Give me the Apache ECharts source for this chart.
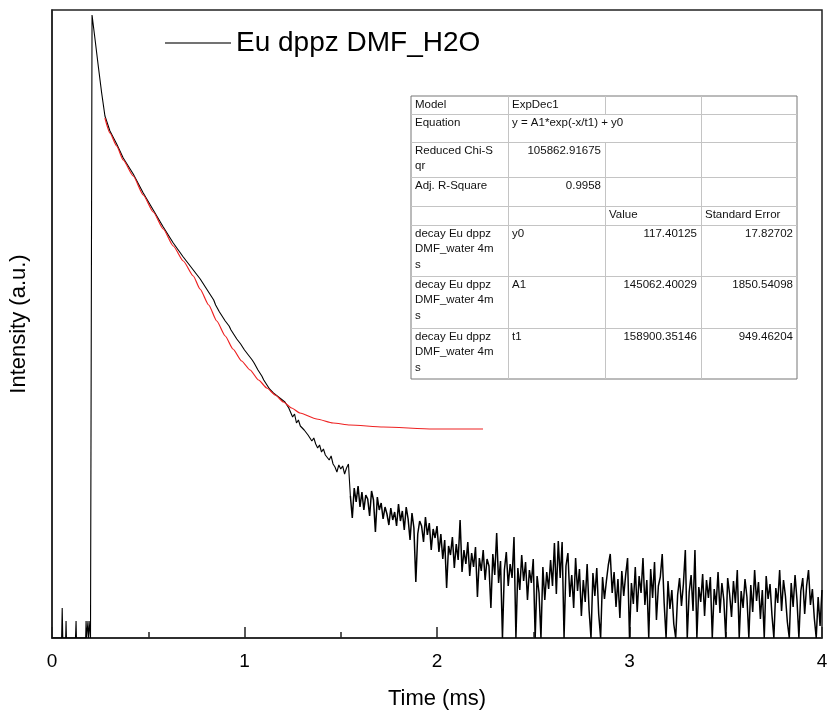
<!DOCTYPE html>
<html>
<head>
<meta charset="utf-8">
<script src="https://cdn.jsdelivr.net/npm/echarts@6/dist/echarts.min.js"></script>
<style>
html,body{margin:0;padding:0;background:#fff;}
#chart{width:832px;height:720px;}
</style>
</head>
<body>
<div id="chart"></div>
<script>
// ---------- DATA ----------
const seriesName = 'Eu dppz DMF_H2O';
const xTickLabels = ['0', '1', '2', '3', '4'];

// irregularly sampled head of the decay trace (time in ms, intensity a.u.)
const headTime = [0, 0.050, 0.053, 0.056, 0.071, 0.073, 0.075, 0.122, 0.125, 0.127, 0.175, 0.177, 0.180, 0.185, 0.187, 0.190, 0.195, 0.197, 0.200, 0.206, 0.208, 0.215, 0.224, 0.241, 0.258, 0.275, 0.301, 0.336, 0.370, 0.422, 0.474, 0.526, 0.578, 0.630, 0.682, 0.734, 0.770];
const headIntensity = [0, 0, 30, 0, 0, 17, 0, 0, 17, 0, 0, 17, 0, 0, 17, 0, 0, 17, 0, 0, 623, 621, 598, 571, 545, 522, 507, 494, 480, 464, 445, 428, 411, 395, 381, 368, 359];

// regularly sampled tail of the trace: 0.80 ms .. 4.00 ms every 0.01 ms
const tailStart = 0.80;
const tailStep = 0.01;
const tailIntensity = [
  350, 347, 345, 341, 338, 333, 331, 326, 324, 320,
  317, 315, 312, 308, 305, 303, 299, 298, 294, 292,
  288, 287, 283, 281, 278, 275, 273, 268, 266, 262,
  258, 256, 252, 249, 247, 245, 243, 242, 240, 239,
  237, 236, 233, 230, 228, 221, 224, 215, 218, 212,
  214, 208, 210, 203, 205, 197, 200, 194, 190, 193,
  186, 189, 183, 185, 178, 182, 174, 171, 166, 173,
  169, 172, 164, 170, 174, 142, 120, 150, 136, 152,
  131, 146, 128, 143, 139, 122, 147, 138, 106, 141,
  128, 135, 119, 131, 124, 113, 130, 118, 126, 112,
  134, 117, 127, 108, 131, 119, 98, 125, 110, 56,
  104, 117, 112, 96, 121, 103, 115, 88, 109, 100,
  112, 86, 104, 79, 98, 50, 92, 83, 101, 70,
  94, 78, 118, 66, 88, 74, 96, 62, 85, 71,
  91, 41, 80, 67, 88, 58, 79, 72, 30, 84,
  63, 105, 55, 77, 0, 68, 86, 52, 74, 60,
  101, 0, 70, 48, 83, 57, 76, 38, 68, 55,
  79, 0, 62, 45, 0, 71, 38, 66, 49, 78,
  52, 95, 44, 97, 60, 96, 0, 72, 85, 41,
  63, 30, 80, 47, 69, 22, 58, 36, 74, 28,
  0, 65, 42, 70, 24, 0, 61, 39, 57, 73,
  84, 45, 66, 31, 59, 20, 67, 42, 63, 80,
  0, 55, 34, 71, 26, 62, 45, 80, 33, 58,
  0, 69, 40, 76, 18, 52, 61, 84, 35, 0,
  57, 29, 48, 14, 0, 43, 60, 32, 54, 88,
  0, 46, 63, 27, 88, 0, 51, 36, 64, 22,
  58, 40, 61, 0, 49, 33, 66, 25, 55, 38,
  0, 60, 44, 21, 57, 35, 68, 0, 47, 30,
  59, 41, 0, 53, 26, 68, 37, 56, 19, 48,
  0, 62, 39, 54, 23, 0, 50, 35, 68, 27,
  58, 42, 16, 0, 55, 31, 63, 38, 0, 47,
  60, 24, 52, 68, 33, 49, 20, 0, 41, 12,
  48
];
const noisyFrom = 1.55; // ms, where the trace becomes noisy (drawn slightly heavier)

// ExpDec1 fit curve
const fitTime = [0.275, 0.301, 0.336, 0.370, 0.422, 0.474, 0.526, 0.578, 0.630, 0.682, 0.734, 0.769, 0.814, 0.856, 0.900, 0.940, 0.985, 1.029, 1.073, 1.116, 1.160, 1.202, 1.245, 1.288, 1.375, 1.460, 1.548, 1.721, 1.979, 2.239];
const fitIntensity = [520, 505, 492, 478, 462, 443, 426, 409, 392, 377, 362, 349, 333, 317, 302, 289, 277, 268, 258, 250, 243, 236, 230, 225, 219, 215, 213, 211, 209, 209];

// fit report table
const tableText = [
  ['Model', 'ExpDec1', '', ''],
  ['Equation', 'y = A1*exp(-x/t1) + y0', '', ''],
  ['Reduced Chi-S\nqr', '105862.91675', '', ''],
  ['Adj. R-Square', '0.9958', '', ''],
  ['', '', 'Value', 'Standard Error'],
  ['decay Eu dppz\nDMF_water 4m\ns', 'y0', '117.40125', '17.82702'],
  ['decay Eu dppz\nDMF_water 4m\ns', 'A1', '145062.40029', '1850.54098'],
  ['decay Eu dppz\nDMF_water 4m\ns', 't1', '158900.35146', '949.46204']
];

// ---------- BUILD ----------
const traceData = headTime.map((t, i) => [t, headIntensity[i]]);
tailIntensity.forEach((v, i) => traceData.push([+(tailStart + i * tailStep).toFixed(2), v]));
const smoothPart = traceData.filter(p => p[0] <= noisyFrom);
const noisyPart = traceData.filter(p => p[0] >= noisyFrom - 0.0001);
const fitData = fitTime.map((t, i) => [t, fitIntensity[i]]);

// table layout
const colX = [411, 508, 605, 701, 797];
const rowY = [96, 114, 142, 177, 206, 225, 276, 328, 379];
const numericRight = (r, c) => c > 0 && /^[0-9.]+$/.test(tableText[r][c]);
const tableEls = [];
tableEls.push({type: 'rect', shape: {x: colX[0], y: rowY[0], width: colX[4] - colX[0], height: rowY[rowY.length - 1] - rowY[0]},
  style: {fill: '#fff', stroke: '#777', lineWidth: 1}});
for (let r = 1; r < rowY.length - 1; r++) {
  tableEls.push({type: 'line', shape: {x1: colX[0], y1: rowY[r] + 0.5, x2: colX[4], y2: rowY[r] + 0.5}, style: {stroke: '#c4c4c4', lineWidth: 1}});
}
for (let r = 0; r < tableText.length; r++) {
  for (let c = 1; c < 4; c++) {
    if (r === 1 && c === 2) continue; // equation text spans
    tableEls.push({type: 'line', shape: {x1: colX[c] + 0.5, y1: rowY[r], x2: colX[c] + 0.5, y2: rowY[r + 1]}, style: {stroke: '#c4c4c4', lineWidth: 1}});
  }
  for (let c = 0; c < 4; c++) {
    const txt = tableText[r][c];
    if (!txt) continue;
    const right = numericRight(r, c);
    tableEls.push({type: 'text', x: right ? colX[c + 1] - 4 : colX[c] + 4, y: rowY[r] + 1,
      style: {text: txt, fill: '#111', font: '11.5px Arial, "Liberation Sans", sans-serif', lineHeight: 15.5,
        align: right ? 'right' : 'left', verticalAlign: 'top'}});
  }
}

const chart = echarts.init(document.getElementById('chart'), null, {renderer: 'canvas'});
const FONT = 'Arial, "Liberation Sans", sans-serif';
chart.setOption({
  animation: false,
  backgroundColor: '#fff',
  grid: {left: 52, right: 10, top: 10, bottom: 82, show: true, borderColor: '#222', borderWidth: 1.5, backgroundColor: 'transparent'},
  legend: {
    data: [seriesName], left: 160, top: 24, icon: 'rect', itemWidth: 66, itemHeight: 1.5,
    textStyle: {fontFamily: FONT, fontSize: 28, color: '#000'},
    itemStyle: {color: '#444'}
  },
  xAxis: {
    type: 'value', min: 0, max: 4, interval: 1,
    name: 'Time (ms)', nameLocation: 'middle', nameGap: 50,
    nameTextStyle: {fontFamily: FONT, fontSize: 22, color: '#000'},
    axisLine: {show: true, lineStyle: {color: '#222', width: 1.5}},
    axisTick: {show: true, inside: true, length: 11, lineStyle: {color: '#222', width: 1.5}},
    minorTick: {show: true, splitNumber: 2, length: 6, lineStyle: {color: '#222', width: 1.5}},
    axisLabel: {fontFamily: FONT, fontSize: 19, color: '#000', margin: 14, formatter: v => xTickLabels[Math.round(v)]},
    splitLine: {show: false}
  },
  yAxis: {
    type: 'value', min: 0, max: 628,
    name: 'Intensity (a.u.)', nameLocation: 'middle', nameGap: 22,
    nameTextStyle: {fontFamily: FONT, fontSize: 22, color: '#000'},
    axisLine: {show: true, lineStyle: {color: '#222', width: 1.5}},
    axisTick: {show: false}, axisLabel: {show: false}, splitLine: {show: false}
  },
  series: [
    {name: seriesName, type: 'line', data: smoothPart, showSymbol: false, symbol: 'none',
      lineStyle: {color: '#000', width: 1.1}, itemStyle: {color: '#000'}, z: 2},
    {name: seriesName, type: 'line', data: noisyPart, showSymbol: false, symbol: 'none',
      lineStyle: {color: '#000', width: 1.5}, itemStyle: {color: '#000'}, z: 2},
    {name: 'fit', type: 'line', data: fitData, showSymbol: false, symbol: 'none', smooth: 0.2, smoothMonotone: 'x',
      lineStyle: {color: '#ee2222', width: 1.2}, itemStyle: {color: '#ee2222'}, z: 3}
  ],
  graphic: [{type: 'group', z: 10, children: tableEls}]
});
</script>
</body>
</html>
